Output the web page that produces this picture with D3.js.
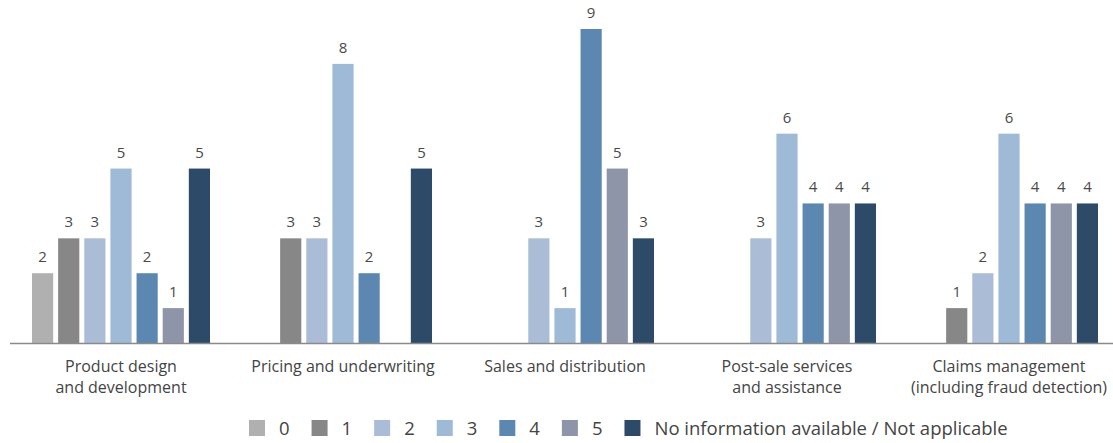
<!DOCTYPE html>
<html>
<head>
<meta charset="utf-8">
<script src="https://cdn.jsdelivr.net/npm/d3@7"></script>
<style>
  body { margin: 0; background: #fff; }
  svg text { font-family: "Open Sans", "Noto Sans", sans-serif; }
</style>
</head>
<body>
<svg id="chart" width="1113" height="443"></svg>
<script>
  // Categories (each label split into lines)
  const groups = [
    ['Product design', 'and development'],
    ['Pricing and underwriting'],
    ['Sales and distribution'],
    ['Post-sale services', 'and assistance'],
    ['Claims management', '(including fraud detection)']
  ]
  const seriesNames = ['0', '1', '2', '3', '4', '5', 'No information available / Not applicable']
  const seriesColors = ['#b0b0b0', '#878787', '#abbcd6', '#9fbad6', '#5b87b0', '#8f95a8', '#2d4a68']

  // counts per series, one value per category (0 = no bar)
  const s0 = [2, 0, 0, 0, 0]
  const s1 = [3, 3, 0, 0, 1]
  const s2 = [3, 3, 3, 3, 2]
  const s3 = [5, 8, 1, 6, 6]
  const s4 = [2, 2, 9, 4, 4]
  const s5 = [1, 0, 5, 4, 4]
  const sNA = [5, 5, 3, 4, 4]
  const seriesValues = [s0, s1, s2, s3, s4, s5, sNA]

  const svg = d3.select('#chart')
  const baseline = 343

  const groupKeys = groups.map((g) => g.join(' '))
  const x0 = d3.scaleBand()
    .domain(groupKeys)
    .range([32, 1098])
    .paddingInner(44 / 222)
    .paddingOuter(0)
  const x1 = d3.scaleBand()
    .domain(d3.range(seriesNames.length))
    .range([0, x0.bandwidth()])
    .paddingInner(0.19)
  const y = d3.scaleLinear()
    .domain([0, 9])
    .range([baseline, 29])

  // flatten for drawing
  const bars = []
  groupKeys.forEach((g, gi) => {
    seriesValues.forEach((vals, si) => {
      if (vals[gi] > 0) bars.push({ g: g, s: si, v: vals[gi] })
    })
  })

  svg.append('g').selectAll('rect')
    .data(bars)
    .enter()
    .append('rect')
      .attr('x', (d) => x0(d.g) + x1(d.s))
      .attr('y', (d) => y(d.v))
      .attr('width', x1.bandwidth())
      .attr('height', (d) => baseline - y(d.v))
      .attr('fill', (d) => seriesColors[d.s])

  svg.append('g').selectAll('text')
    .data(bars)
    .enter()
    .append('text')
      .attr('x', (d) => x0(d.g) + x1(d.s) + x1.bandwidth() / 2)
      .attr('y', (d) => y(d.v) - 11)
      .attr('text-anchor', 'middle')
      .attr('font-size', 15)
      .attr('fill', '#4a4a4a')
      .text((d) => d.v)

  // baseline
  svg.append('line')
    .attr('x1', 10).attr('x2', 1113)
    .attr('y1', baseline + 0.5).attr('y2', baseline + 0.5)
    .attr('stroke', '#8a8a8a')
    .attr('stroke-width', 1.5)

  // category labels
  const cat = svg.append('g').selectAll('text')
    .data(groups)
    .enter()
    .append('text')
      .attr('text-anchor', 'middle')
      .attr('font-size', 16)
      .attr('fill', '#444')
      .attr('transform', (d, i) => 'translate(' + (x0(groupKeys[i]) + x0.bandwidth() / 2) + ',372)')
  cat.selectAll('tspan')
    .data((d) => d)
    .enter()
    .append('tspan')
      .attr('x', 0)
      .attr('y', (d, i) => i * 21)
      .text((d) => d)

  // legend
  const legend = svg.append('g')
  let lx = 249
  seriesNames.forEach((name, i) => {
    legend.append('rect')
      .attr('x', lx).attr('y', 420)
      .attr('width', 16).attr('height', 16)
      .attr('fill', seriesColors[i])
    const t = legend.append('text')
      .attr('x', lx + 30)
      .attr('y', 435)
      .attr('font-size', 18.5)
      .attr('fill', '#444')
      .text(name)
    lx = lx + 30 + t.node().getComputedTextLength() + 22
  })
</script>
</body>
</html>
